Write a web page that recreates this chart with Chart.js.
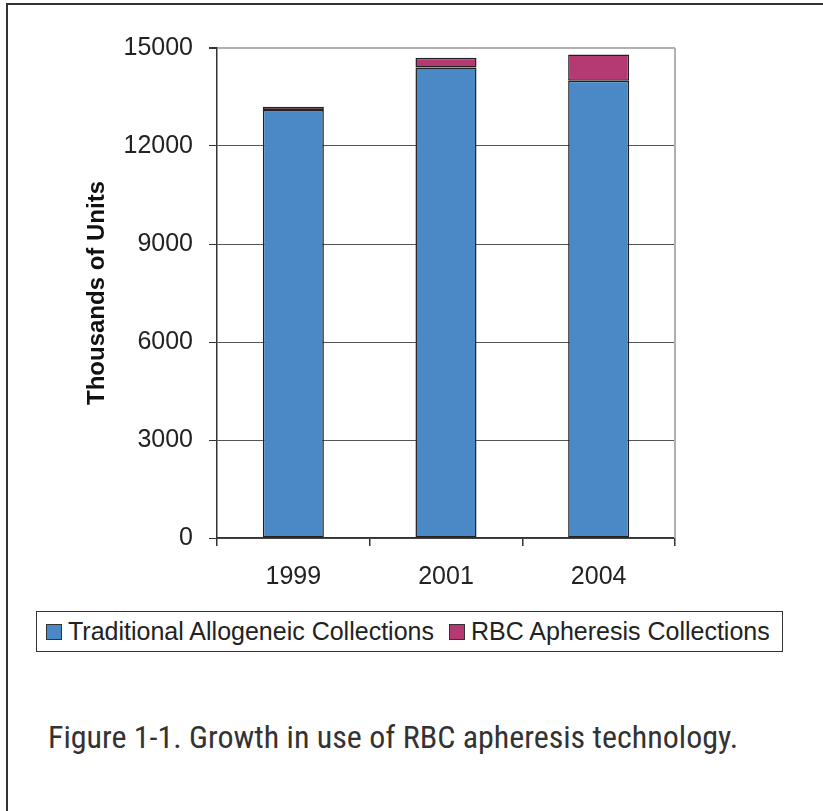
<!DOCTYPE html>
<html>
<head>
<meta charset="utf-8">
<script src="https://cdn.jsdelivr.net/npm/chart.js@4.4.1/dist/chart.umd.min.js"></script>
<style>
  html, body { margin: 0; padding: 0; background: #fff; overflow: hidden; }
  body { width: 823px; height: 811px; position: relative; font-family: "Liberation Sans", Arial, sans-serif; }
  #frame { position: absolute; left: 6px; top: 3px; width: 815px; height: 806px;
           border-left: 2px solid #333; border-top: 2px solid #333; }
  #chart { position: absolute; left: 0; top: 0; }
  #legend { position: absolute; left: 36px; top: 611px; width: 736px; height: 39px;
            border: 1.5px solid #333; display: flex; align-items: center; padding-left: 9px;
            box-sizing: content-box; font-size: 25px; color: #222; white-space: nowrap; }
  .item { display: flex; align-items: center; margin-right: 15px; }
  .sw { width: 14px; height: 14px; border: 1.5px solid #333; margin-right: 6px; }
  #caption { position: absolute; left: 48px; top: 721px; font-family: "Liberation Sans Narrow", "Roboto Condensed", sans-serif;
             font-stretch: condensed; font-size: 32px; line-height: 32px; color: #333; white-space: nowrap; }
</style>
</head>
<body>
<div id="frame"></div>
<canvas id="chart" width="823" height="600"></canvas>
<div id="legend"></div>
<div id="caption">Figure 1-1. Growth in use of RBC apheresis technology.</div>
<script>
// data (thousands of units)
const years = ['1999', '2001', '2004'];
const traditional = [13100, 14400, 14000];
const apheresis = [100, 300, 800];
const seriesNames = ['Traditional Allogeneic Collections', 'RBC Apheresis Collections'];
const yMax = 15000;
const yStep = 3000;
const yTitle = 'Thousands of Units';

const colors = ['#4a88c6', '#b53972'];

// legend in a box, like the original
const legend = document.getElementById('legend');
seriesNames.forEach((name, i) => {
    const item = document.createElement('div');
    item.className = 'item';
    const sw = document.createElement('div');
    sw.className = 'sw';
    sw.style.background = colors[i];
    const txt = document.createElement('span');
    txt.textContent = name;
    item.appendChild(sw);
    item.appendChild(txt);
    legend.appendChild(item);
});

const tickFont = { family: '"Liberation Sans", Arial, sans-serif', size: 25 };

// light grey right edge of the plot area
const plotEdge = {
    id: 'plotEdge',
    afterDatasetsDraw(chart) {
        const a = chart.chartArea;
        const c = chart.ctx;
        c.save();
        c.strokeStyle = '#b0b0b0';
        c.lineWidth = 2;
        c.beginPath();
        c.moveTo(a.right, a.top);
        c.lineTo(a.right, a.bottom);
        c.stroke();
        c.restore();
    }
};

new Chart(document.getElementById('chart'), {
    type: 'bar',
    data: {
        labels: years,
        datasets: [
            { label: seriesNames[0], data: traditional, backgroundColor: colors[0] },
            { label: seriesNames[1], data: apheresis, backgroundColor: colors[1] }
        ]
    },
    options: {
        responsive: false,
        animation: false,
        layout: { padding: { left: 79, top: 48, right: 148, bottom: 12 } },
        datasets: {
            bar: {
                borderColor: '#222',
                borderWidth: 1.5,
                borderSkipped: false,
                categoryPercentage: 1,
                barPercentage: 0.4
            }
        },
        plugins: { legend: { display: false }, tooltip: { enabled: false } },
        scales: {
            x: {
                stacked: true,
                afterFit(scale) { scale.height = 50; },
                grid: { drawOnChartArea: false, offset: true, tickLength: 8, color: '#333', lineWidth: 1.5 },
                border: { color: '#333', width: 1.5 },
                ticks: { font: tickFont, color: '#222', padding: 16 }
            },
            y: {
                stacked: true,
                min: 0,
                max: yMax,
                afterFit(scale) { scale.width = 217 - 79; },
                grid: {
                    color: ctx => ctx.tick && ctx.tick.value === yMax ? '#b0b0b0' : '#555',
                    lineWidth: ctx => ctx.tick && ctx.tick.value === yMax ? 2 : 1,
                    tickColor: '#333',
                    tickLength: 8
                },
                border: { color: '#333', width: 1.5 },
                ticks: { stepSize: yStep, font: tickFont, color: '#222', padding: 16,
                         callback: v => String(v) },
                title: {
                    display: true,
                    text: yTitle,
                    color: '#111',
                    font: { family: '"Liberation Sans", Arial, sans-serif', size: 24, weight: 'bold' }
                }
            }
        }
    },
    plugins: [plotEdge]
});
</script>
</body>
</html>
